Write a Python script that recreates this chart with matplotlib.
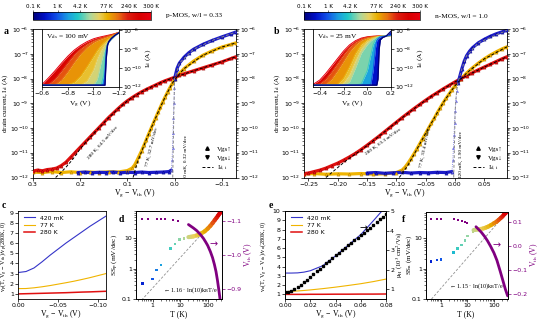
import numpy as np
import matplotlib
matplotlib.use("Agg")
import matplotlib.pyplot as plt
from matplotlib.colors import LinearSegmentedColormap, Normalize
from matplotlib.collections import LineCollection
from matplotlib.lines import Line2D
from matplotlib.cm import ScalarMappable
from matplotlib.ticker import FixedLocator, FixedFormatter, NullFormatter

# ======================= DATA =======================
cbar_temps = [0.1, 1, 4.2, 77, 240, 300]
cbar_labels = ["0.1 K", "1 K", "4.2 K", "77 K", "240 K", "300 K"]
cbar_pos = [0.0, 0.21, 0.40, 0.62, 0.81, 1.0]

# ---- panel a (p-MOS), x = Vg - Vth (V), y = log10(Id / A)
a_red_x = [0.300, 0.290, 0.280, 0.270, 0.260, 0.250, 0.240, 0.230, 0.220, 0.210, 0.200, 0.190, 0.180,
           0.170, 0.160, 0.150, 0.140, 0.130, 0.120, 0.110, 0.100, 0.090, 0.080, 0.070, 0.060, 0.050,
           0.040, 0.030, 0.020, 0.010, 0.000, -0.010, -0.020, -0.040, -0.060, -0.080, -0.100, -0.120, -0.130]
a_red_y = [-11.74, -11.70, -11.73, -11.68, -11.66, -11.62, -11.52, -11.38, -11.18, -10.98, -10.78, -10.58,
           -10.38, -10.18, -9.98, -9.78, -9.58, -9.40, -9.22, -9.05, -8.90, -8.77, -8.65, -8.54, -8.44,
           -8.35, -8.26, -8.17, -8.09, -8.02, -7.95, -7.87, -7.81, -7.69, -7.57, -7.45, -7.33, -7.19, -7.12]
a_red_fit_x = [0.252, 0.24, 0.23, 0.22, 0.21, 0.20, 0.18, 0.16, 0.14, 0.12, 0.10, 0.08, 0.06, 0.04, 0.02,
               0.0, -0.04, -0.08, -0.13]
a_red_fit_y = [-12.0, -11.78, -11.58, -11.36, -11.12, -10.84, -10.40, -9.99, -9.59, -9.23, -8.90, -8.65,
               -8.44, -8.26, -8.09, -7.95, -7.69, -7.45, -7.12]

a_or_x = [0.30, 0.28, 0.26, 0.24, 0.22, 0.20, 0.18, 0.16, 0.14, 0.12, 0.10, 0.09, 0.085,
          0.08, 0.075, 0.07, 0.065, 0.06, 0.055, 0.05, 0.045, 0.04, 0.035, 0.03, 0.025, 0.02, 0.015,
          0.01, 0.005, 0.0, -0.01, -0.02, -0.04, -0.06, -0.08, -0.10, -0.12, -0.13]
a_or_y = [-11.78, -11.80, -11.76, -11.80, -11.77, -11.80, -11.78, -11.80, -11.77, -11.78, -11.72, -11.62,
          -11.50, -11.32, -11.12, -10.92, -10.70, -10.47, -10.24, -10.02, -9.80, -9.58, -9.36, -9.15,
          -8.94, -8.74, -8.55, -8.37, -8.20, -8.04, -7.80, -7.60, -7.30, -7.06, -6.88, -6.73, -6.62, -6.56]
a_or_fit_x = [0.088, 0.08, 0.07, 0.06, 0.05, 0.04, 0.03, 0.02, 0.01, 0.0, -0.02, -0.06, -0.10, -0.13]
a_or_fit_y = [-12.0, -11.45, -10.95, -10.47, -10.02, -9.58, -9.15, -8.74, -8.37, -8.04, -7.60, -7.06,
              -6.73, -6.56]

a_bl_floor_x = [0.205, 0.19, 0.175, 0.16, 0.145, 0.13, 0.115, 0.10, 0.085, 0.07, 0.055, 0.04, 0.025,
                0.012, 0.007]
a_bl_floor_y = [-11.80, -11.78, -11.81, -11.79, -11.80, -11.78, -11.81, -11.79, -11.80, -11.78, -11.80,
                -11.79, -11.78, -11.76, -11.70]
a_bl_rise_x = [0.007, 0.0055, 0.0045, 0.0035, 0.0025, 0.0015, 0.0005, 0.0]
a_bl_rise_y = [-11.70, -11.30, -10.80, -10.20, -9.60, -9.00, -8.40, -8.00]
a_bl_top_x = [0.0, -0.005, -0.01, -0.02, -0.03, -0.04, -0.06, -0.08, -0.10, -0.12, -0.13]
a_bl_top_y = [-8.00, -7.60, -7.38, -7.14, -6.96, -6.82, -6.62, -6.46, -6.32, -6.19, -6.12]
a_bl_fit_x = [0.004, 0.003, 0.0015, 0.0, -0.01, -0.04, -0.08, -0.13]
a_bl_fit_y = [-12.0, -10.8, -9.2, -8.0, -7.38, -6.82, -6.46, -6.12]

# ---- panel b (n-MOS)
b_red_x = [-0.257, -0.25, -0.24, -0.23, -0.22, -0.21, -0.20, -0.19, -0.18, -0.17, -0.16, -0.15, -0.14,
           -0.13, -0.12, -0.11, -0.10, -0.09, -0.08, -0.07, -0.06, -0.05, -0.04, -0.03, -0.02, -0.01,
           0.0, 0.01, 0.02, 0.03, 0.04, 0.05, 0.06, 0.07, 0.08, 0.089]
b_red_y = [-11.84, -11.82, -11.76, -11.70, -11.62, -11.52, -11.42, -11.30, -11.17, -11.03, -10.87, -10.70,
           -10.52, -10.34, -10.15, -9.96, -9.77, -9.58, -9.40, -9.22, -9.05, -8.88, -8.72, -8.57, -8.42,
           -8.28, -8.14, -8.01, -7.89, -7.77, -7.65, -7.54, -7.43, -7.32, -7.21, -7.12]
b_red_fit_x = [-0.22, -0.21, -0.20, -0.19, -0.18, -0.16, -0.14, -0.12, -0.10, -0.08, -0.06, -0.04, -0.02,
               0.0, 0.02, 0.05, 0.089]
b_red_fit_y = [-12.0, -11.8, -11.6, -11.4, -11.22, -10.89, -10.53, -10.15, -9.77, -9.40, -9.05, -8.72,
               -8.42, -8.14, -7.89, -7.54, -7.12]

b_or_x = [-0.257, -0.24, -0.22, -0.20, -0.18, -0.16, -0.14, -0.12, -0.10, -0.09, -0.085, -0.08, -0.075,
          -0.07, -0.065, -0.06, -0.055, -0.05, -0.045, -0.04, -0.035, -0.03, -0.025, -0.02, -0.015, -0.01,
          -0.005, 0.0, 0.01, 0.02, 0.03, 0.04, 0.05, 0.06, 0.07, 0.08, 0.089]
b_or_y = [-11.86, -11.84, -11.87, -11.85, -11.86, -11.84, -11.86, -11.85, -11.80, -11.70, -11.58, -11.42,
          -11.24, -11.05, -10.85, -10.64, -10.43, -10.22, -10.01, -9.80, -9.60, -9.38, -9.18, -8.98,
          -8.80, -8.63, -8.46, -8.30, -8.02, -7.78, -7.57, -7.38, -7.21, -7.06, -6.93, -6.81, -6.72]
b_or_fit_x = [-0.095, -0.09, -0.08, -0.07, -0.06, -0.05, -0.04, -0.03, -0.02, -0.01, 0.0, 0.02, 0.05, 0.089]
b_or_fit_y = [-12.0, -11.85, -11.50, -11.08, -10.65, -10.22, -9.80, -9.38, -8.98, -8.63, -8.30, -7.78,
              -7.21, -6.72]

b_bl_floor_x = [-0.15, -0.135, -0.12, -0.105, -0.09, -0.075, -0.06, -0.045, -0.03, -0.015, -0.005]
b_bl_floor_y = [-11.82, -11.80, -11.83, -11.81, -11.79, -11.82, -11.80, -11.81, -11.79, -11.80, -11.76]
b_bl_rise_x = [-0.005, -0.0035, -0.0025, -0.0015, -0.0005, 0.0005, 0.0015, 0.003, 0.005]
b_bl_rise_y = [-11.76, -11.30, -10.80, -10.30, -9.80, -9.30, -8.90, -8.50, -8.20]
b_bl_top_x = [0.005, 0.008, 0.012, 0.016, 0.02, 0.025, 0.03, 0.04, 0.05, 0.06, 0.07, 0.08, 0.089]
b_bl_top_y = [-8.20, -7.95, -7.60, -7.30, -7.08, -6.90, -6.76, -6.56, -6.42, -6.30, -6.20, -6.12, -6.05]
b_bl_fit_x = [-0.002, -0.001, 0.0005, 0.003, 0.005, 0.012, 0.02, 0.04, 0.089]
b_bl_fit_y = [-12.0, -11.0, -9.3, -8.5, -8.2, -7.6, -7.08, -6.56, -6.05]

# ---- inset a: Vg (V) grid and log10(Id) per temperature
ins_a_vg = [-0.60, -0.65, -0.70, -0.75, -0.80, -0.85, -0.90, -0.95, -1.00, -1.03, -1.06, -1.08, -1.09,
            -1.10, -1.11, -1.12, -1.14, -1.17, -1.20]
ins_a_temps = [300, 200, 140, 77, 40, 15, 4.2, 1, 0.1]
ins_a_logI = [
    [-11.75, -11.05, -10.30, -9.50, -8.75, -8.10, -7.60, -7.20, -6.90, -6.78, -6.68, -6.62, -6.59, -6.56, -6.53, -6.50, -6.44, -6.33, -6.20],
    [-11.85, -11.75, -11.20, -10.35, -9.45, -8.60, -7.95, -7.45, -7.08, -6.92, -6.80, -6.72, -6.68, -6.64, -6.60, -6.56, -6.49, -6.35, -6.20],
    [-11.85, -11.85, -11.80, -11.30, -10.40, -9.40, -8.50, -7.80, -7.30, -7.08, -6.92, -6.82, -6.77, -6.72, -6.67, -6.62, -6.53, -6.38, -6.22],
    [-11.85, -11.85, -11.85, -11.85, -11.80, -11.55, -10.90, -9.90, -8.80, -8.15, -7.60, -7.32, -7.20, -7.08, -6.97, -6.87, -6.70, -6.45, -6.23],
    [-11.85, -11.85, -11.85, -11.85, -11.85, -11.85, -11.85, -11.40, -10.20, -9.00, -8.10, -7.65, -7.45, -7.30, -7.15, -7.02, -6.80, -6.50, -6.24],
    [-11.85, -11.85, -11.85, -11.85, -11.85, -11.85, -11.85, -11.85, -11.85, -11.20, -9.40, -8.30, -7.90, -7.60, -7.40, -7.22, -6.95, -6.55, -6.25],
    [-11.85, -11.85, -11.85, -11.85, -11.85, -11.85, -11.85, -11.85, -11.85, -11.85, -11.85, -10.80, -9.20, -8.00, -7.50, -7.25, -6.92, -6.53, -6.25],
    [-11.85, -11.85, -11.85, -11.85, -11.85, -11.85, -11.85, -11.85, -11.85, -11.85, -11.85, -11.85, -10.50, -8.20, -7.50, -7.25, -6.90, -6.52, -6.25],
    [-11.85, -11.85, -11.85, -11.85, -11.85, -11.85, -11.85, -11.85, -11.85, -11.85, -11.85, -11.85, -11.85, -9.00, -7.60, -7.20, -6.85, -6.50, -6.25],
]

# ---- inset b
ins_b_vg = [-0.46, -0.40, -0.35, -0.30, -0.25, -0.20, -0.15, -0.10, -0.05, 0.0, 0.03, 0.05, 0.07, 0.08,
            0.09, 0.10, 0.11, 0.13, 0.16, 0.20]
ins_b_temps = [300, 200, 140, 77, 40, 15, 4.2, 1, 0.1]
ins_b_logI = [
    [-11.80, -11.30, -10.60, -9.80, -9.00, -8.20, -7.55, -7.10, -6.82, -6.68, -6.64, -6.62, -6.61, -6.60, -6.60, -6.59, -6.59, -6.58, -6.57, -6.55],
    [-11.85, -11.70, -11.20, -10.40, -9.50, -8.60, -7.80, -7.25, -6.90, -6.72, -6.67, -6.64, -6.62, -6.61, -6.61, -6.60, -6.60, -6.59, -6.58, -6.55],
    [-11.85, -11.85, -11.75, -11.20, -10.30, -9.30, -8.30, -7.55, -7.05, -6.80, -6.72, -6.68, -6.65, -6.63, -6.62, -6.61, -6.61, -6.60, -6.58, -6.55],
    [-11.85, -11.85, -11.85, -11.85, -11.75, -11.10, -9.90, -8.50, -7.50, -7.00, -6.84, -6.76, -6.70, -6.67, -6.65, -6.63, -6.62, -6.61, -6.59, -6.55],
    [-11.85, -11.85, -11.85, -11.85, -11.85, -11.60, -10.70, -9.20, -7.90, -7.20, -6.95, -6.83, -6.75, -6.71, -6.68, -6.65, -6.63, -6.61, -6.59, -6.55],
    [-11.85, -11.85, -11.85, -11.85, -11.85, -11.85, -11.50, -10.00, -8.40, -7.50, -7.10, -6.92, -6.82, -6.76, -6.71, -6.67, -6.64, -6.61, -6.59, -6.55],
    [-11.85, -11.85, -11.85, -11.85, -11.85, -11.85, -11.85, -11.85, -11.70, -10.30, -8.60, -7.50, -7.00, -6.85, -6.76, -6.70, -6.66, -6.62, -6.60, -6.54],
    [-11.85, -11.85, -11.85, -11.85, -11.85, -11.85, -11.85, -11.85, -11.85, -11.85, -11.80, -10.20, -7.80, -7.10, -6.90, -6.78, -6.70, -6.64, -6.60, -6.50],
    [-11.85, -11.85, -11.85, -11.85, -11.85, -11.85, -11.85, -11.85, -11.85, -11.85, -11.85, -11.85, -11.85, -11.85, -11.20, -8.00, -7.00, -6.75, -6.60, -6.10],
]

# ---- panel c
c_x = [0.0, -0.01, -0.02, -0.03, -0.04, -0.05, -0.06, -0.07, -0.08, -0.09, -0.10, -0.11]
c_420mK = [3.10, 3.20, 3.55, 4.15, 4.80, 5.40, 6.00, 6.55, 7.10, 7.65, 8.15, 8.65]
c_77K = [1.52, 1.53, 1.60, 1.70, 1.82, 1.96, 2.10, 2.25, 2.42, 2.60, 2.80, 3.00]
c_280K = [1.00, 1.02, 1.04, 1.06, 1.08, 1.10, 1.12, 1.15, 1.18, 1.20, 1.23, 1.26]

# ---- panel d
d_T_pts = [0.42, 1.0, 1.4, 2.0, 4.5, 6.5, 9.3, 14, 20]
d_SS_pts = [0.33, 0.46, 0.90, 1.34, 4.6, 6.6, 9.1, 9.9, 11.0]
d_T_cont = [20, 25, 30, 40, 50, 60, 77, 100, 125, 150, 180, 210, 240, 270, 300]
d_SS_cont = [11.0, 11.3, 11.6, 12.5, 13.5, 14.8, 17.0, 21.0, 26.0, 32.0, 40.0, 48.0, 57.0, 66.0, 76.0]
d_Vth_T_pts = [0.42, 0.7, 1.4, 2.0, 2.8, 5.3, 8.1]
d_Vth_pts = [-1.107, -1.107, -1.106, -1.107, -1.106, -1.103, -1.099]
d_Vth_T_cont = [20, 30, 40, 55, 70, 85, 100, 125, 150, 175, 200, 225, 250, 275, 300]
d_Vth_cont = [-1.090, -1.080, -1.072, -1.060, -1.049, -1.038, -1.028, -1.010, -0.992, -0.972, -0.951,
              -0.926, -0.900, -0.875, -0.849]
d_theory_T = [0.25, 330]
d_theory_SS = [0.0575, 76.0]

# ---- panel e
e_x = [0.0, 0.005, 0.01, 0.015, 0.02, 0.03, 0.04, 0.05, 0.06, 0.07, 0.08]
e_420mK = [3.30, 3.30, 3.32, 3.40, 3.55, 4.10, 5.15, 6.30, 7.45, 8.95, 10.5]
e_77K = [1.30, 1.33, 1.37, 1.42, 1.48, 1.62, 1.78, 1.96, 2.15, 2.38, 2.65]
e_280K = [1.00, 1.00, 1.00, 1.00, 1.01, 1.01, 1.02, 1.02, 1.03, 1.03, 1.04]
e_mu_x = [0.0, 0.0025, 0.005, 0.0075, 0.01, 0.0125, 0.015, 0.0175, 0.02, 0.0225, 0.025, 0.0275, 0.03,
          0.0325, 0.035, 0.0375, 0.04, 0.0425, 0.045, 0.0475, 0.05, 0.0525, 0.055, 0.0575, 0.06, 0.0625,
          0.065, 0.0675, 0.07, 0.0725, 0.075, 0.0775, 0.08]
e_mu = [0.85, 0.88, 0.93, 1.00, 1.10, 1.22, 1.35, 1.49, 1.63, 1.77, 1.91, 2.05, 2.18, 2.32, 2.46, 2.60,
        2.73, 2.86, 2.99, 3.11, 3.24, 3.37, 3.50, 3.62, 3.75, 3.89, 4.02, 4.15, 4.29, 4.43, 4.57, 4.71, 4.85]

# ---- panel f
f_T_pts = [0.42, 0.7, 1.0, 3.0, 4.2, 6.0, 8.0, 10.0, 16.0]
f_SS_pts = [1.7, 1.9, 2.0, 3.4, 4.6, 6.0, 8.5, 12.0, 17.0]
f_T_cont = [17, 20, 25, 30, 40, 50, 60, 77, 100, 125, 150, 180, 210, 240, 270, 300]
f_SS_cont = [18.5, 19.0, 19.5, 20.0, 21.0, 22.5, 24.0, 27.0, 31.0, 35.0, 40.0, 46.0, 52.0, 60.0, 66.0, 72.0]
f_Vth_T_pts = [0.42, 0.7, 1.0, 3.0, 4.2, 6.0, 8.0, 10.0]
f_Vth_pts = [0.111, 0.111, 0.111, 0.110, 0.107, 0.103, 0.099, 0.093]
f_Vth_T_cont = [21, 33, 45, 57, 75, 100, 130, 175, 220, 270, 330]
f_Vth_cont = [0.079, 0.057, 0.038, 0.021, -0.002, -0.029, -0.060, -0.107, -0.145, -0.179, -0.207]
f_theory_T = [0.27, 350]
f_theory_SS = [0.0616, 79.9]

# ======================= STYLE =======================
plt.rcParams['font.family'] = ['DejaVu Sans']
plt.rcParams['mathtext.fontset'] = 'stix'
plt.rcParams['font.size'] = 4.6
plt.rcParams['axes.linewidth'] = 0.6
SERIF = ['Liberation Serif', 'DejaVu Serif']
RED, ORANGE, BLUE = '#e01010', '#f0b400', '#1c1cc8'
PURPLE = '#800080'
TICK = 4.5

cmap = LinearSegmentedColormap.from_list('tcmap', [
    (0.0, '#00007a'), (0.10, '#0010c8'), (0.20, '#1050e8'), (0.30, '#1aa0e0'), (0.38, '#20c8c8'),
    (0.48, '#a8d8a0'), (0.56, '#e8d060'), (0.63, '#e8b000'), (0.72, '#e87010'), (0.80, '#dd2010'),
    (0.90, '#d80000'), (1.0, '#e80010')])


def tfrac(T):
    return np.interp(np.log10(T), np.log10(cbar_temps), cbar_pos)


def tcol(T):
    return cmap(tfrac(T))


fig = plt.figure(figsize=(5.43, 3.19), dpi=100)


def add_ax(l, t, r, b):
    return fig.add_axes([l / 543, 1 - b / 319, (r - l) / 543, (b - t) / 319])


def style(ax, ls=TICK):
    ax.tick_params(which='major', labelsize=ls, length=2, width=0.5, pad=1.2)
    ax.tick_params(which='minor', length=1.2, width=0.4)


axa = add_ax(33, 29, 236, 177.5)
axb = add_ax(304.3, 29, 507, 177.5)
insa = add_ax(42.3, 29, 119, 87)
insb = add_ax(312.7, 29, 391, 87)
cba = add_ax(33, 12, 151, 20)
cbb = add_ax(303.7, 12, 420.3, 20)
axc = add_ax(18, 211, 106, 299)
axd = add_ax(136, 211, 222, 299)
axe = add_ax(285, 211, 386, 299)
axf = add_ax(426, 212, 508.3, 299)


def p10(v):
    return 10 ** np.asarray(v, dtype=float)


def main_curve(ax, x, y, color, edge):
    ax.plot(x, p10(y), color=color, lw=2.3, solid_capstyle='round', zorder=2)
    ax.plot(x, p10(y), ls='none', marker='^', ms=2.3, mfc=color, mec=edge, mew=0.3, zorder=3)


def fit_line(ax, x, y, color='k'):
    ax.plot(x, p10(y), color=color, lw=0.7, ls=(0, (3, 2)), zorder=4)


# ------------------- panel a -------------------
main_curve(axa, a_or_x, a_or_y, ORANGE, '#b07800')
main_curve(axa, a_red_x, a_red_y, RED, '#900000')
main_curve(axa, a_bl_floor_x, a_bl_floor_y, BLUE, '#000080')
axa.plot(a_bl_rise_x, p10(a_bl_rise_y), color='#6a6ae0', lw=0.6, ls=':', marker='^', ms=1.6,
         mfc='#8080ff', mec='#4040c0', mew=0.2, zorder=3)
main_curve(axa, a_bl_top_x, a_bl_top_y, BLUE, '#000080')
fit_line(axa, a_red_fit_x, a_red_fit_y)
fit_line(axa, a_or_fit_x, a_or_fit_y)
fit_line(axa, a_bl_fit_x, a_bl_fit_y, '#888888')

# ------------------- panel b -------------------
main_curve(axb, b_or_x, b_or_y, ORANGE, '#b07800')
main_curve(axb, b_red_x, b_red_y, RED, '#900000')
main_curve(axb, b_bl_floor_x, b_bl_floor_y, BLUE, '#000080')
axb.plot(b_bl_rise_x, p10(b_bl_rise_y), color='#6a6ae0', lw=0.6, ls=':', marker='^', ms=1.6,
         mfc='#8080ff', mec='#4040c0', mew=0.2, zorder=3)
main_curve(axb, b_bl_top_x, b_bl_top_y, BLUE, '#000080')
fit_line(axb, b_red_fit_x, b_red_fit_y)
fit_line(axb, b_or_fit_x, b_or_fit_y)
fit_line(axb, b_bl_fit_x, b_bl_fit_y, '#888888')

for ax in (axa, axb):
    ax.set_yscale('log')
    ax.set_ylim(1e-12, 1e-6)
    style(ax)
    ax.tick_params(which='both', right=True, labelright=True)

axa.set_xlim(0.3, -0.13)
axa.set_xticks([0.3, 0.2, 0.1, 0.0, -0.1])
axa.set_xticklabels(['0.3', '0.2', '0.1', '0.0', '\u22120.1'])
axb.set_xlim(-0.257, 0.089)
axb.set_xticks([-0.25, -0.20, -0.15, -0.10, -0.05, 0.0, 0.05])
axb.set_xticklabels(['\u22120.25', '\u22120.20', '\u22120.15', '\u22120.10', '\u22120.05', '0.00', '0.05'])

ann_kw = dict(fontsize=3.8, family=SERIF, ha='center', va='center', rotation_mode='anchor', clip_on=True)
axa.text(0.151, 10 ** -10.57, '280 K, 64.5 mV/dec', rotation=48, **ann_kw)
axa.text(0.048, 10 ** -10.77, '77 K, 32.7 mV/dec', rotation=76, **ann_kw)
axa.text(-0.025, 10 ** -11.25, '420 mK, 0.32 mV/dec', rotation=90, **ann_kw)
axb.text(-0.122, 10 ** -10.57, '280 K, 63.3 mV/dec', rotation=36, **ann_kw)
axb.text(-0.051, 10 ** -10.80, '77 K, 33.4 mV/dec', rotation=78, **ann_kw)
axb.text(0.011, 10 ** -11.05, '420 mK, 1.90 mV/dec', rotation=90, **ann_kw)

leg_handles = [Line2D([], [], ls='none', marker='^', color='k', ms=2.5),
               Line2D([], [], ls='none', marker='v', color='k', ms=2.5),
               Line2D([], [], ls=(0, (3, 2)), color='k', lw=0.7)]
leg_labels = ['Vgs\u2191', 'Vgs\u2193', 'I$_\\mathrm{d,\\,i}$']
for ax in (axa, axb):
    ax.legend(leg_handles, leg_labels, loc='lower right', frameon=False, handlelength=1.6,
              handletextpad=0.6, labelspacing=0.45, borderaxespad=0.2, bbox_to_anchor=(1.0, 0.0),
              prop={'family': SERIF, 'size': 5.0})


# ------------------- insets -------------------
def draw_inset(ax, vg, temps, curves):
    curves = [p10(c) for c in curves]
    for i in range(len(curves) - 1):
        mid = 0.5 * (tfrac(temps[i]) + tfrac(temps[i + 1]))
        ax.fill_between(vg, curves[i], curves[i + 1], color=cmap(mid), lw=0)
    for c, T in zip(curves, temps):
        lw = 1.0 if T < 0.5 else 0.7
        ax.plot(vg, c, color=tcol(T), lw=lw)
    ax.set_yscale('log')
    ax.set_ylim(10 ** -12.05, 10 ** -5.85)
    ax.yaxis.set_major_locator(FixedLocator([1e-12, 1e-10, 1e-8, 1e-6]))
    ax.yaxis.set_minor_locator(FixedLocator([]))
    style(ax)
    ax.tick_params(left=False, labelleft=False, right=True, labelright=True)
    ax.yaxis.set_label_position('right')
    ax.set_ylabel('I$_\\mathrm{d}$ (A)', family=SERIF, fontsize=5.4, labelpad=1)
    ax.set_xlabel('V$_\\mathrm{g}$ (V)', family=SERIF, fontsize=5.4, labelpad=1)
    ax.set_zorder(5)


draw_inset(insa, ins_a_vg, ins_a_temps, ins_a_logI)
insa.set_xlim(-0.6, -1.2)
insa.set_xticks([-0.6, -0.8, -1.0, -1.2])
insa.set_xticklabels(['\u22120.6', '\u22120.8', '\u22121.0', '\u22121.2'])
insa.text(0.05, 0.94, 'V$_\\mathrm{ds}$ = 100 mV', transform=insa.transAxes, ha='left', va='top',
          family=SERIF, fontsize=5.3)
draw_inset(insb, ins_b_vg, ins_b_temps, ins_b_logI)
insb.set_xlim(-0.46, 0.2)
insb.set_xticks([-0.4, -0.2, 0.0, 0.2])
insb.set_xticklabels(['\u22120.4', '\u22120.2', '0.0', '0.2'])
insb.text(0.05, 0.94, 'V$_\\mathrm{ds}$ = 25 mV', transform=insb.transAxes, ha='left', va='top',
          family=SERIF, fontsize=5.3)

# ------------------- colorbars -------------------
for cax in (cba, cbb):
    cb = fig.colorbar(ScalarMappable(norm=Normalize(0, 1), cmap=cmap), cax=cax, orientation='horizontal')
    cb.set_ticks(cbar_pos)
    cb.set_ticklabels(cbar_labels)
    cax.xaxis.set_ticks_position('top')
    cax.tick_params(labelsize=4.1, length=1.5, width=0.4, pad=1)
    cb.outline.set_linewidth(0.5)
fig.text(193.5 / 543, 1 - 15.5 / 319, 'p-MOS, w/l = 0.33', ha='center', va='center', family=SERIF, fontsize=5.3)
fig.text(461 / 543, 1 - 15.5 / 319, 'n-MOS, w/l = 1.0', ha='center', va='center', family=SERIF, fontsize=5.3)

# ------------------- panel c -------------------
axc.plot(c_x, c_420mK, color='#3434c8', lw=0.8, label='420 mK')
axc.plot(c_x, c_77K, color=ORANGE, lw=0.8, label='77 K')
axc.plot(c_x, c_280K, color=RED, lw=1.1, label='280 K')
axc.set_xlim(0.0, -0.11)
axc.set_ylim(0.5, 9.15)
axc.set_xticks([0.0, -0.05, -0.10])
axc.set_xticklabels(['0.00', '\u22120.05', '\u22120.10'])
axc.set_yticks(range(1, 10))
style(axc)
axc.tick_params(axis='y', pad=1.0)
axc.legend(loc='upper left', frameon=False, fontsize=4.4, handlelength=1.8, labelspacing=0.3,
           borderaxespad=0.3, bbox_to_anchor=(0.02, 1.0))

# ------------------- panel e -------------------
axe.plot(e_x, e_420mK, color='#3434c8', lw=0.8, label='420 mK')
axe.plot(e_x, e_77K, color=ORANGE, lw=0.8, label='77 K')
axe.plot(e_x, e_280K, color=RED, lw=1.1, label='280 K')
axe.set_xlim(0.0, 0.08)
axe.set_ylim(0.5, 10.0)
axe.set_xticks([0.0, 0.02, 0.04, 0.06, 0.08])
axe.set_xticklabels(['0.00', '0.02', '0.04', '0.06', '0.08'])
axe.set_yticks(range(1, 11))
style(axe)
axe.legend(loc='upper left', frameon=False, fontsize=4.4, handlelength=1.8, labelspacing=0.3,
           borderaxespad=0.3, bbox_to_anchor=(0.02, 1.0))
axe2 = axe.twinx()
axe2.plot(e_mu_x, e_mu, ls='none', marker='s', ms=1.5, color='k')
axe2.set_ylim(0.5, 5.0)
axe2.set_yticks([1, 2, 3, 4, 5])
style(axe2)
axe2.tick_params(axis='y', pad=1.0)
axe.text(0.78, 0.80, '\u2192', transform=axe.transAxes, fontsize=7, ha='center', va='center',
         family=['DejaVu Sans'])


# ------------------- panels d, f -------------------
def ss_panel(ax, Tp, SSp, Tc, SSc, thT, thSS, xlim, ylim, txt, txt_y):
    ax.set_xscale('log')
    ax.set_yscale('log')
    ax.plot(thT, thSS, color='#909090', lw=0.6, ls=(0, (3, 2)), zorder=1)
    ax.scatter(Tp, SSp, s=3.5, marker='s', c=[tcol(t) for t in Tp], lw=0, zorder=3)
    pts = np.column_stack([Tc, SSc])
    segs = np.stack([pts[:-1], pts[1:]], axis=1)
    cols = [cmap(0.5 * (tfrac(a) + tfrac(b))) for a, b in zip(Tc[:-1], Tc[1:])]
    ax.add_collection(LineCollection(segs, colors=cols, lw=3.0, capstyle='round', zorder=3))
    ax.set_xlim(*xlim)
    ax.set_ylim(*ylim)
    ax.xaxis.set_major_locator(FixedLocator([1, 10, 100]))
    ax.xaxis.set_major_formatter(FixedFormatter(['1', '10', '100']))
    ax.xaxis.set_minor_formatter(NullFormatter())
    ax.yaxis.set_major_locator(FixedLocator([0.1, 1, 10]))
    ax.yaxis.set_major_formatter(FixedFormatter(['0.1', '1', '10']))
    ax.yaxis.set_minor_formatter(NullFormatter())
    style(ax)
    ax.tick_params(axis='y', pad=1.0)
    ax.text(0.95, txt_y, txt, transform=ax.transAxes, ha='right', va='bottom', family=SERIF, fontsize=4.4)


def vth_axis(ax, Tp, Vp, Tc, Vc, ylim, ticks, labels):
    ax2 = ax.twinx()
    ax2.plot(Tc, Vc, color=PURPLE, lw=2.0, solid_capstyle='round')
    ax2.plot(Tp, Vp, ls='none', marker='s', ms=1.9, color=PURPLE, mew=0)
    ax2.set_ylim(*ylim)
    ax2.set_yticks(ticks)
    ax2.set_yticklabels(labels)
    style(ax2)
    ax2.tick_params(axis='y', colors=PURPLE, pad=1.0)
    return ax2


ss_panel(axd, d_T_pts, d_SS_pts, d_T_cont, d_SS_cont, d_theory_T, d_theory_SS, (0.25, 330), (0.1, 80),
         '\u2190 1.16 \u00b7 ln(10)k$_\\mathrm{B}$T/e', 0.04)
axd2 = vth_axis(axd, d_Vth_T_pts, d_Vth_pts, d_Vth_T_cont, d_Vth_cont, (-0.87, -1.13),
                [-1.1, -1.0, -0.9], ['\u22121.1', '\u22121.0', '\u22120.9'])
axd.text(0.9, 0.625, '\u2192', transform=axd.transAxes, fontsize=7, color=PURPLE, ha='center',
         va='center', zorder=6)

ss_panel(axf, f_T_pts, f_SS_pts, f_T_cont, f_SS_cont, f_theory_T, f_theory_SS, (0.27, 350), (0.1, 73),
         '\u2190 1.15 \u00b7 ln(10)k$_\\mathrm{B}$T/e', 0.09)
axf2 = vth_axis(axf, f_Vth_T_pts, f_Vth_pts, f_Vth_T_cont, f_Vth_cont, (-0.22, 0.14),
                [0.1, 0.0, -0.1, -0.2], ['0.1', '0.0', '\u22120.1', '\u22120.2'])
axf.text(0.86, 0.615, '\u2192', transform=axf.transAxes, fontsize=7, color=PURPLE, ha='center',
         va='center', zorder=6)

# ------------------- labels -------------------
def ftext(px, py, s, **kw):
    fig.text(px / 543, 1 - py / 319, s, **kw)


lab = dict(family=SERIF, fontsize=5.6, ha='center', va='center')
ylab_main = dict(lab, fontsize=5.2, rotation=90)
ftext(5, 103, 'drain current, I$_\\mathrm{d}$ (A)', **ylab_main)
ftext(277, 103, 'drain current, I$_\\mathrm{d}$ (A)', **ylab_main)
ftext(135, 193, 'V$_\\mathrm{g}$ \u2212 V$_\\mathrm{th}$ (V)', **lab)
ftext(405, 193, 'V$_\\mathrm{g}$ \u2212 V$_\\mathrm{th}$ (V)', **lab)
ftext(61, 314, 'V$_\\mathrm{g}$ \u2212 V$_\\mathrm{th}$ (V)', **lab)
ftext(336, 314, 'V$_\\mathrm{g}$ \u2212 V$_\\mathrm{th}$ (V)', **lab)
ftext(179, 314, 'T (K)', **lab)
ftext(466, 314, 'T (K)', **lab)
ylab = dict(family=SERIF, fontsize=4.4, ha='center', va='center', rotation=90)
ftext(4, 256, 'v$_\\mathrm{p}$(T, V$_\\mathrm{g}$ \u2212 V$_\\mathrm{th}$)/v$_\\mathrm{p}$(280K, 0)', **ylab)
ftext(264, 256, 'v$_\\mathrm{n}$(T, V$_\\mathrm{g}$ \u2212 V$_\\mathrm{th}$)/v$_\\mathrm{n}$(280K, 0)', **ylab)
ftext(115, 255, 'SS$_\\mathrm{p}$ (mV/dec)', **dict(ylab, fontsize=5.2))
ftext(409.5, 255, 'SS$_\\mathrm{n}$ (mV/dec)', **dict(ylab, fontsize=5.0))
ftext(400, 255, '\u03bc$_\\mathrm{H}$ (10$^3$ cm$^2$/Vs)', **dict(ylab, fontsize=4.9))
ftext(248, 255, 'V$_\\mathrm{th}$ (V)', color=PURPLE, **dict(ylab, fontsize=5.6))
ftext(534, 255, 'V$_\\mathrm{th}$ (V)', color=PURPLE, **dict(ylab, fontsize=5.6))

pl = dict(family=SERIF, fontsize=7, fontweight='bold', ha='center', va='center')
ftext(6, 31, 'a', **pl)
ftext(277, 31, 'b', **pl)
ftext(4, 206, 'c', **pl)
ftext(121, 220, 'd', **pl)
ftext(271, 205, 'e', **pl)
ftext(404, 220, 'f', **pl)

fig.savefig('out.png', dpi=100)
